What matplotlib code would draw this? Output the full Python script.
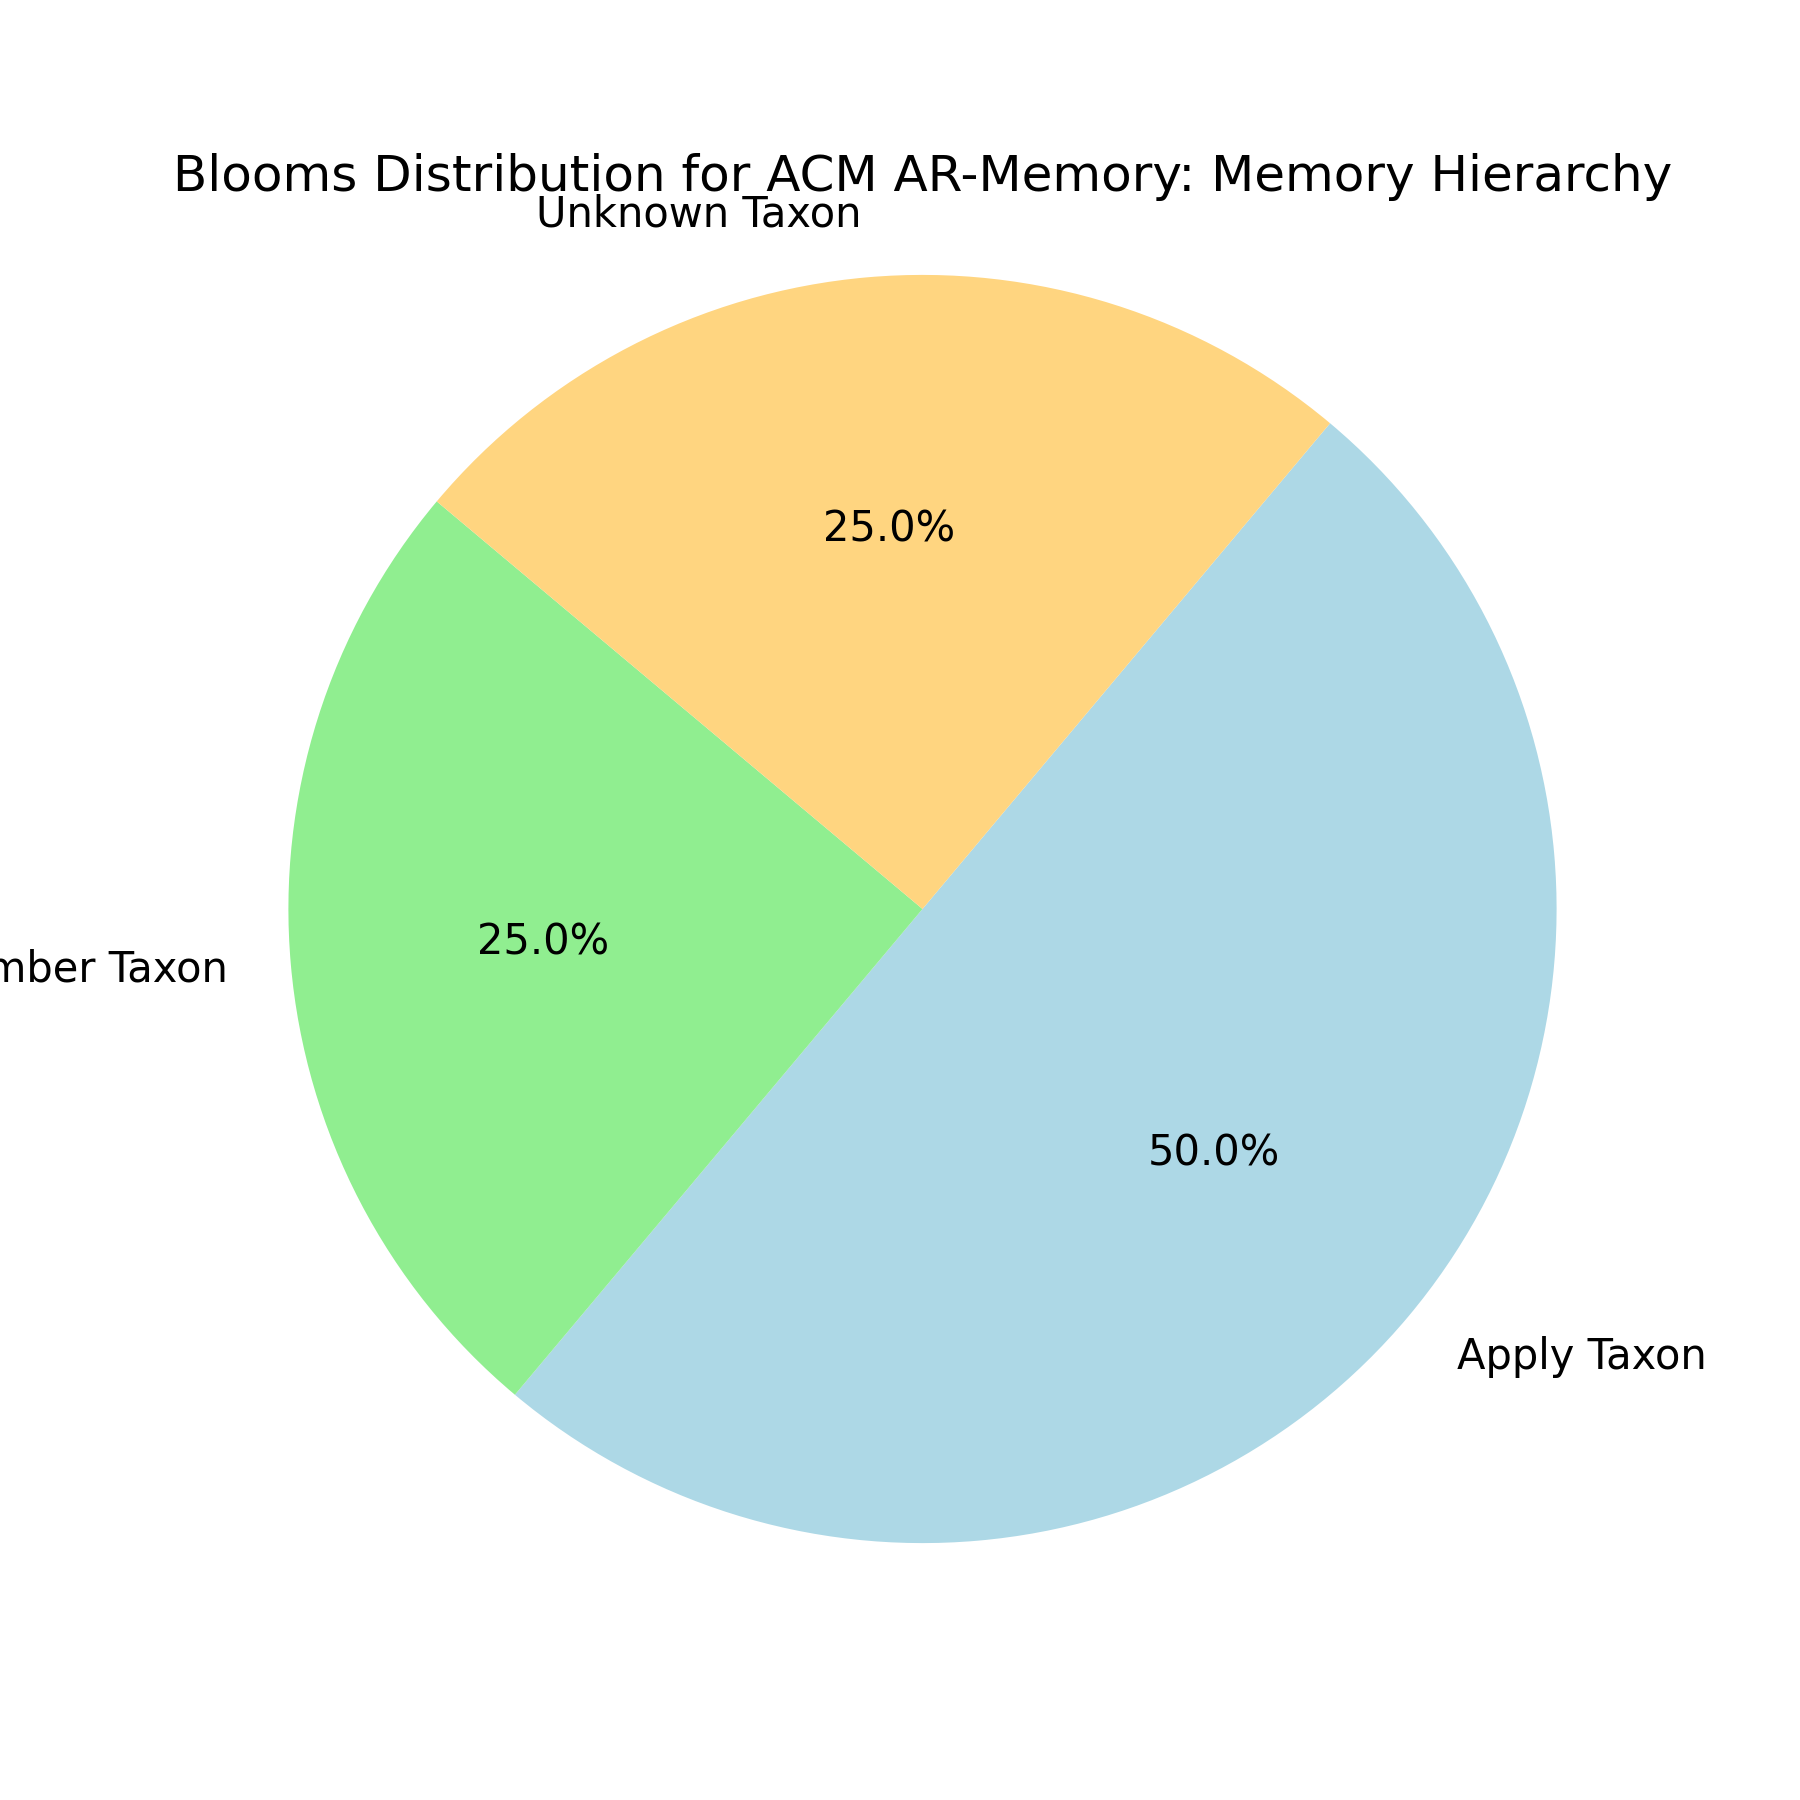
import matplotlib
matplotlib.use("Agg")
import matplotlib.pyplot as plt

labels = ["Apply Taxon", "Remember Taxon", "Unknown Taxon"]
counts = [2, 1, 1]
colors = ["#ADD8E6", "#90EE90", "#FFD580"]

fig = plt.figure(figsize=(6, 6), dpi=300)
ax = fig.add_subplot(111)

ax.pie(counts, labels=labels, colors=colors, autopct="%1.1f%%",
       startangle=50, counterclock=False)
ax.set_title("Blooms Distribution for ACM AR-Memory: Memory Hierarchy")
plt.axis("equal")

fig.savefig("out.png", dpi=300)
